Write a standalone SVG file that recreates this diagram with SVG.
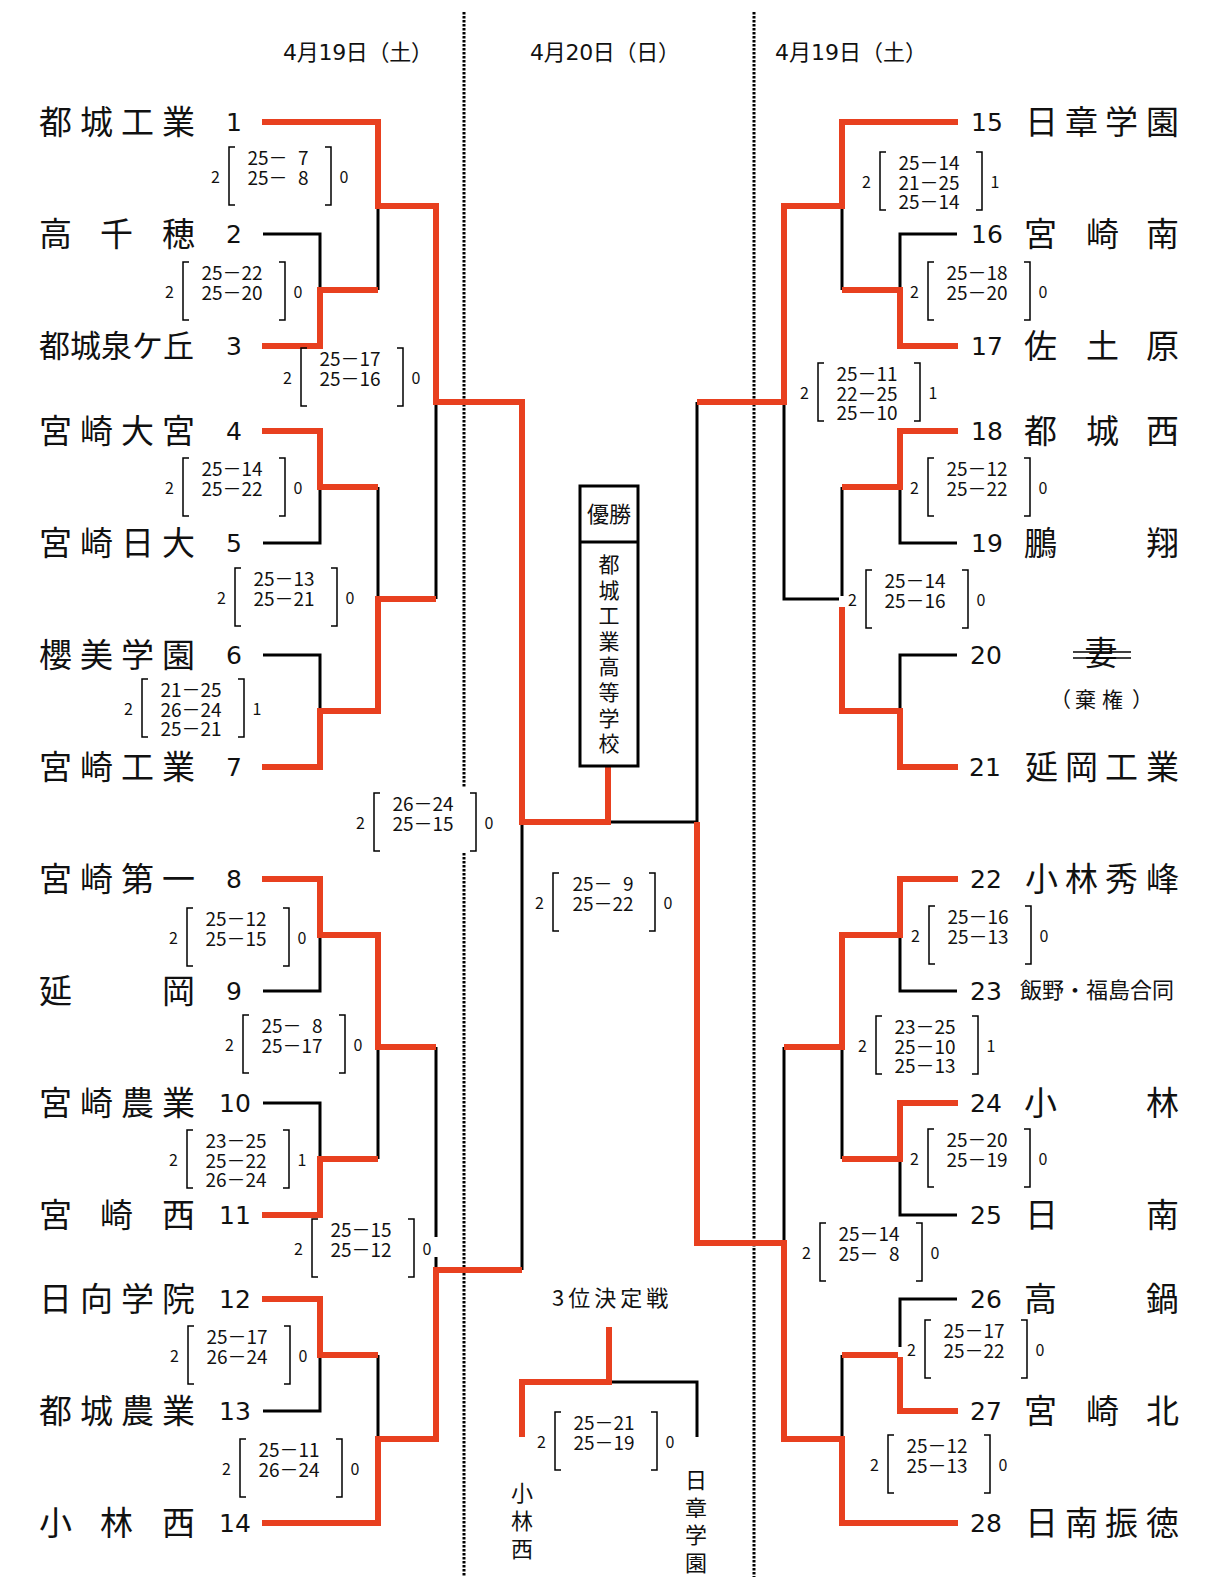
<svg xmlns="http://www.w3.org/2000/svg" xmlns:xlink="http://www.w3.org/1999/xlink" width="1219" height="1594" viewBox="0 0 1219 1594">
<style>
text{font-family:"Noto Sans CJK JP","Noto Sans",sans-serif;fill:#111}
.r{fill:none;stroke:#E8401F;stroke-width:6;stroke-linejoin:miter}
.k{fill:none;stroke:#000;stroke-width:3;stroke-linejoin:miter}
.dot{fill:none;stroke:#000;stroke-width:3;stroke-dasharray:2.5 1.5}
.br{fill:none;stroke:#000;stroke-width:1.5}
.nm{font-size:33px}
.nu{font-family:"DejaVu Sans","Noto Sans CJK JP",sans-serif;font-size:25px;text-anchor:middle}
.sc{font-size:19px;text-anchor:middle}
.so{font-size:16px;text-anchor:middle}
.hd{font-family:"DejaVu Sans","Noto Sans CJK JP",sans-serif;font-size:22px}
.mask{fill:#fff}
</style>
<defs>
<path id="brk" class="br" d="M6,0 H0 V58 H6 M96,0 H102 V58 H96"/>
</defs>
<rect width="1219" height="1594" fill="#fff"/>

<g id="dividers">
<path class="dot" d="M464,12 V788 M464,853 V1577"/>
<path class="dot" d="M754,12 V1577"/>
</g>

<g id="headers">
<text class="hd" x="283" y="60" textLength="150" lengthAdjust="spacing">4月19日（土）</text>
<text class="hd" x="530" y="60" textLength="150" lengthAdjust="spacing">4月20日（日）</text>
<text class="hd" x="775" y="60" textLength="152" lengthAdjust="spacing">4月19日（土）</text>
</g>

<g id="connectors">
<!-- left black -->
<path class="k" d="M263,234 H320 V290"/>
<path class="k" d="M378,206 V290"/>
<path class="k" d="M263,543 H320 V487"/>
<path class="k" d="M263,655 H320 V711"/>
<path class="k" d="M378,487 V599"/>
<path class="k" d="M436,402 V599"/>
<path class="k" d="M263,991 H320 V935"/>
<path class="k" d="M263,1103 H320 V1159"/>
<path class="k" d="M378,1047 V1159"/>
<path class="k" d="M436,1047 V1237 M436,1257 V1270"/>
<path class="k" d="M263,1411 H320 V1355"/>
<path class="k" d="M378,1355 V1439"/>
<path class="k" d="M522,822 V1270"/>
<path class="k" d="M608,822 H697"/>
<path class="k" d="M697,402 V822"/>
<!-- right black -->
<path class="k" d="M957,234 H900 V290"/>
<path class="k" d="M842,206 V290"/>
<path class="k" d="M957,543 H900 V487"/>
<path class="k" d="M957,655 H900 V711"/>
<path class="k" d="M842,487 V599 H784 V402"/>
<path class="k" d="M957,991 H900 V935"/>
<path class="k" d="M957,1215 H900 V1159"/>
<path class="k" d="M842,1047 V1159"/>
<path class="k" d="M784,1047 V1243"/>
<path class="k" d="M957,1299 H900 V1355"/>
<path class="k" d="M842,1355 V1439"/>
<!-- third place black -->
<path class="k" d="M609,1382 H697 V1437"/>
<!-- left red -->
<path class="r" d="M262,122 H378 V206 H436 V402 H522 V822 H608 V766"/>
<path class="r" d="M262,346 H320 V290 H378"/>
<path class="r" d="M262,431 H320 V487 H378"/>
<path class="r" d="M262,767 H320 V711 H378 V599 H436"/>
<path class="r" d="M262,879 H320 V935 H378 V1047 H436"/>
<path class="r" d="M262,1215 H320 V1159 H378"/>
<path class="r" d="M262,1299 H320 V1355 H378"/>
<path class="r" d="M262,1523 H378 V1439 H436 V1270 H522"/>
<!-- right red -->
<path class="r" d="M958,122 H842 V206 H784 V402 H697"/>
<path class="r" d="M958,346 H900 V290 H842"/>
<path class="r" d="M958,431 H900 V487 H842"/>
<path class="r" d="M958,767 H900 V711 H842 V599"/>
<path class="r" d="M958,879 H900 V935 H842 V1047 H784"/>
<path class="r" d="M958,1103 H900 V1159 H842"/>
<path class="r" d="M958,1411 H900 V1355 H842"/>
<path class="r" d="M958,1523 H842 V1439 H784 V1243 H697 V822"/>
<!-- third place red -->
<path class="r" d="M609,1327 V1382 H522 V1437"/>
</g>

<!-- left teams -->
<g id="team-1"><text class="nm" x="39 80 121 162" y="134">都城工業</text><text class="nu" x="234" y="131">1</text></g>
<g id="team-2"><text class="nm" x="39 100 162" y="246">高千穂</text><text class="nu" x="234" y="243">2</text></g>
<g id="team-3"><text class="nm" style="font-size:31px" x="39 70 101 132 163" y="357">都城泉ケ丘</text><text class="nu" x="234" y="355">3</text></g>
<g id="team-4"><text class="nm" x="39 80 121 162" y="443">宮崎大宮</text><text class="nu" x="234" y="440">4</text></g>
<g id="team-5"><text class="nm" x="39 80 121 162" y="555">宮崎日大</text><text class="nu" x="234" y="552">5</text></g>
<g id="team-6"><text class="nm" x="39 80 121 162" y="667">櫻美学園</text><text class="nu" x="234" y="664">6</text></g>
<g id="team-7"><text class="nm" x="39 80 121 162" y="779">宮崎工業</text><text class="nu" x="234" y="776">7</text></g>
<g id="team-8"><text class="nm" x="39 80 121 162" y="891">宮崎第一</text><text class="nu" x="234" y="888">8</text></g>
<g id="team-9"><text class="nm" x="39 162" y="1003">延岡</text><text class="nu" x="234" y="1000">9</text></g>
<g id="team-10"><text class="nm" x="39 80 121 162" y="1115">宮崎農業</text><text class="nu" x="235" y="1112">10</text></g>
<g id="team-11"><text class="nm" x="39 100 162" y="1227">宮崎西</text><text class="nu" x="235" y="1224">11</text></g>
<g id="team-12"><text class="nm" x="39 80 121 162" y="1311">日向学院</text><text class="nu" x="235" y="1308">12</text></g>
<g id="team-13"><text class="nm" x="39 80 121 162" y="1423">都城農業</text><text class="nu" x="235" y="1420">13</text></g>
<g id="team-14"><text class="nm" x="39 100 162" y="1535">小林西</text><text class="nu" x="235" y="1532">14</text></g>

<!-- right teams -->
<g id="team-15"><text class="nu" x="987" y="131">15</text><text class="nm" x="1025 1065 1105 1146" y="134">日章学園</text></g>
<g id="team-16"><text class="nu" x="987" y="243">16</text><text class="nm" x="1024 1086 1146" y="246">宮崎南</text></g>
<g id="team-17"><text class="nu" x="987" y="355">17</text><text class="nm" x="1024 1086 1146" y="358">佐土原</text></g>
<g id="team-18"><text class="nu" x="987" y="440">18</text><text class="nm" x="1024 1086 1146" y="443">都城西</text></g>
<g id="team-19"><text class="nu" x="987" y="552">19</text><text class="nm" x="1024 1146" y="555">鵬翔</text></g>
<g id="team-20"><text class="nu" x="986" y="664">20</text><text class="nm" x="1101" y="665" text-anchor="middle">妻</text>
<path class="br" d="M1073,652 H1131 M1073,658 H1131"/>
<text x="1050 1075 1102 1132" y="707" style="font-size:21px">（棄権）</text></g>
<g id="team-21"><text class="nu" x="985" y="776">21</text><text class="nm" x="1025 1065 1105 1146" y="779">延岡工業</text></g>
<g id="team-22"><text class="nu" x="986" y="888">22</text><text class="nm" x="1025 1065 1105 1146" y="891">小林秀峰</text></g>
<g id="team-23"><text class="nu" x="986" y="1000">23</text><text x="1020" y="998" style="font-size:22px">飯野・福島合同</text></g>
<g id="team-24"><text class="nu" x="986" y="1112">24</text><text class="nm" x="1024 1146" y="1115">小林</text></g>
<g id="team-25"><text class="nu" x="986" y="1224">25</text><text class="nm" x="1025 1146" y="1227">日南</text></g>
<g id="team-26"><text class="nu" x="986" y="1308">26</text><text class="nm" x="1024 1146" y="1311">高鍋</text></g>
<g id="team-27"><text class="nu" x="986" y="1420">27</text><text class="nm" x="1024 1086 1146" y="1423">宮崎北</text></g>
<g id="team-28"><text class="nu" x="986" y="1532">28</text><text class="nm" x="1025 1065 1105 1146" y="1535">日南振徳</text></g>

<!-- champion box -->
<g id="champion">
<rect x="580" y="486" width="58" height="280" fill="#fff" stroke="#000" stroke-width="3"/>
<line x1="580" y1="542" x2="638" y2="542" stroke="#000" stroke-width="3"/>
<text x="609" y="522" text-anchor="middle" style="font-size:22px">優勝</text>
<text x="609 609 609 609 609 609 609 609" y="572 597.5 623 649 674 700 725.5 751" text-anchor="middle" style="font-size:21px">都城工業高等学校</text>
</g>

<!-- third place -->
<g id="third-place">
<text x="552" y="1306" style="font-size:22px;letter-spacing:4px">3位決定戦</text>
<text x="522 522 522" y="1501 1529 1557" text-anchor="middle" style="font-size:22px">小林西</text>
<text x="696 696 696 696" y="1488 1516 1543 1571" text-anchor="middle" style="font-size:22px">日章学園</text>
</g>

<!-- score boxes -->
<g id="score-1-23" transform="translate(229,147)"><use xlink:href="#brk"/><text class="so" x="-13.5" y="36">2</text><text class="so" x="115" y="36">0</text>
<text class="sc" x="49" y="18">25－<tspan dx="10.5">7</tspan></text><text class="sc" x="49" y="37.5">25－<tspan dx="10.5">8</tspan></text></g>
<g id="score-2-3" transform="translate(183,262)"><use xlink:href="#brk"/><text class="so" x="-13.5" y="36">2</text><text class="so" x="115" y="36">0</text>
<text class="sc" x="49" y="18">25－22</text><text class="sc" x="49" y="37.5">25－20</text></g>
<g id="score-q1" transform="translate(301,348)"><use xlink:href="#brk"/><text class="so" x="-13.5" y="36">2</text><text class="so" x="115" y="36">0</text>
<text class="sc" x="49" y="18">25－17</text><text class="sc" x="49" y="37.5">25－16</text></g>
<g id="score-4-5" transform="translate(183,458)"><use xlink:href="#brk"/><text class="so" x="-13.5" y="36">2</text><text class="so" x="115" y="36">0</text>
<text class="sc" x="49" y="18">25－14</text><text class="sc" x="49" y="37.5">25－22</text></g>
<g id="score-45-67" transform="translate(235,568)"><use xlink:href="#brk"/><text class="so" x="-13.5" y="36">2</text><text class="so" x="115" y="36">0</text>
<text class="sc" x="49" y="18">25－13</text><text class="sc" x="49" y="37.5">25－21</text></g>
<g id="score-6-7" transform="translate(142,679)"><use xlink:href="#brk"/><text class="so" x="-13.5" y="36">2</text><text class="so" x="115" y="36">1</text>
<text class="sc" x="49" y="18">21－25</text><text class="sc" x="49" y="37.5">26－24</text><text class="sc" x="49" y="57">25－21</text></g>
<g id="score-semi-left" transform="translate(374,793)"><rect class="mask" x="-24" y="-5" width="150" height="65"/><use xlink:href="#brk"/><text class="so" x="-13.5" y="36">2</text><text class="so" x="115" y="36">0</text>
<text class="sc" x="49" y="18">26－24</text><text class="sc" x="49" y="37.5">25－15</text></g>
<g id="score-8-9" transform="translate(187,908)"><use xlink:href="#brk"/><text class="so" x="-13.5" y="36">2</text><text class="so" x="115" y="36">0</text>
<text class="sc" x="49" y="18">25－12</text><text class="sc" x="49" y="37.5">25－15</text></g>
<g id="score-89-1011" transform="translate(243,1015)"><use xlink:href="#brk"/><text class="so" x="-13.5" y="36">2</text><text class="so" x="115" y="36">0</text>
<text class="sc" x="49" y="18">25－<tspan dx="10.5">8</tspan></text><text class="sc" x="49" y="37.5">25－17</text></g>
<g id="score-10-11" transform="translate(187,1130)"><use xlink:href="#brk"/><text class="so" x="-13.5" y="36">2</text><text class="so" x="115" y="36">1</text>
<text class="sc" x="49" y="18">23－25</text><text class="sc" x="49" y="37.5">25－22</text><text class="sc" x="49" y="57">26－24</text></g>
<g id="score-q2" transform="translate(312,1219)"><use xlink:href="#brk"/><text class="so" x="-13.5" y="36">2</text><text class="so" x="115" y="36">0</text>
<text class="sc" x="49" y="18">25－15</text><text class="sc" x="49" y="37.5">25－12</text></g>
<g id="score-12-13" transform="translate(188,1326)"><use xlink:href="#brk"/><text class="so" x="-13.5" y="36">2</text><text class="so" x="115" y="36">0</text>
<text class="sc" x="49" y="18">25－17</text><text class="sc" x="49" y="37.5">26－24</text></g>
<g id="score-1213-14" transform="translate(240,1439)"><use xlink:href="#brk"/><text class="so" x="-13.5" y="36">2</text><text class="so" x="115" y="36">0</text>
<text class="sc" x="49" y="18">25－11</text><text class="sc" x="49" y="37.5">26－24</text></g>
<g id="score-final" transform="translate(553,873)"><use xlink:href="#brk"/><text class="so" x="-13.5" y="36">2</text><text class="so" x="115" y="36">0</text>
<text class="sc" x="50" y="18">25－<tspan dx="10.5">9</tspan></text><text class="sc" x="50" y="37.5">25－22</text></g>
<g id="score-third" transform="translate(555,1412)"><use xlink:href="#brk"/><text class="so" x="-13.5" y="36">2</text><text class="so" x="115" y="36">0</text>
<text class="sc" x="49" y="18">25－21</text><text class="sc" x="49" y="37.5">25－19</text></g>

<g id="score-15-1617" transform="translate(880,152)"><use xlink:href="#brk"/><text class="so" x="-13.5" y="36">2</text><text class="so" x="115" y="36">1</text>
<text class="sc" x="49" y="18">25－14</text><text class="sc" x="49" y="37.5">21－25</text><text class="sc" x="49" y="57">25－14</text></g>
<g id="score-16-17" transform="translate(928,262)"><use xlink:href="#brk"/><text class="so" x="-13.5" y="36">2</text><text class="so" x="115" y="36">0</text>
<text class="sc" x="49" y="18">25－18</text><text class="sc" x="49" y="37.5">25－20</text></g>
<g id="score-q3" transform="translate(818,363)"><use xlink:href="#brk"/><text class="so" x="-13.5" y="36">2</text><text class="so" x="115" y="36">1</text>
<text class="sc" x="49" y="18">25－11</text><text class="sc" x="49" y="37.5">22－25</text><text class="sc" x="49" y="57">25－10</text></g>
<g id="score-18-19" transform="translate(928,458)"><use xlink:href="#brk"/><text class="so" x="-13.5" y="36">2</text><text class="so" x="115" y="36">0</text>
<text class="sc" x="49" y="18">25－12</text><text class="sc" x="49" y="37.5">25－22</text></g>
<g id="score-1819-2021" transform="translate(866,570)"><rect class="mask" x="-27" y="26" width="10" height="11"/><use xlink:href="#brk"/><text class="so" x="-13.5" y="36">2</text><text class="so" x="115" y="36">0</text>
<text class="sc" x="49" y="18">25－14</text><text class="sc" x="49" y="37.5">25－16</text></g>
<g id="score-22-23" transform="translate(929,906)"><use xlink:href="#brk"/><text class="so" x="-13.5" y="36">2</text><text class="so" x="115" y="36">0</text>
<text class="sc" x="49" y="18">25－16</text><text class="sc" x="49" y="37.5">25－13</text></g>
<g id="score-2223-2425" transform="translate(876,1016)"><use xlink:href="#brk"/><text class="so" x="-13.5" y="36">2</text><text class="so" x="115" y="36">1</text>
<text class="sc" x="49" y="18">23－25</text><text class="sc" x="49" y="37.5">25－10</text><text class="sc" x="49" y="57">25－13</text></g>
<g id="score-24-25" transform="translate(928,1129)"><use xlink:href="#brk"/><text class="so" x="-13.5" y="36">2</text><text class="so" x="115" y="36">0</text>
<text class="sc" x="49" y="18">25－20</text><text class="sc" x="49" y="37.5">25－19</text></g>
<g id="score-q4" transform="translate(820,1223)"><use xlink:href="#brk"/><text class="so" x="-13.5" y="36">2</text><text class="so" x="115" y="36">0</text>
<text class="sc" x="49" y="18">25－14</text><text class="sc" x="49" y="37.5">25－<tspan dx="10.5">8</tspan></text></g>
<g id="score-26-27" transform="translate(925,1320)"><rect class="mask" x="-27" y="27" width="8" height="10"/><use xlink:href="#brk"/><text class="so" x="-13.5" y="36">2</text><text class="so" x="115" y="36">0</text>
<text class="sc" x="49" y="18">25－17</text><text class="sc" x="49" y="37.5">25－22</text></g>
<g id="score-2627-28" transform="translate(888,1435)"><use xlink:href="#brk"/><text class="so" x="-13.5" y="36">2</text><text class="so" x="115" y="36">0</text>
<text class="sc" x="49" y="18">25－12</text><text class="sc" x="49" y="37.5">25－13</text></g>
</svg>
